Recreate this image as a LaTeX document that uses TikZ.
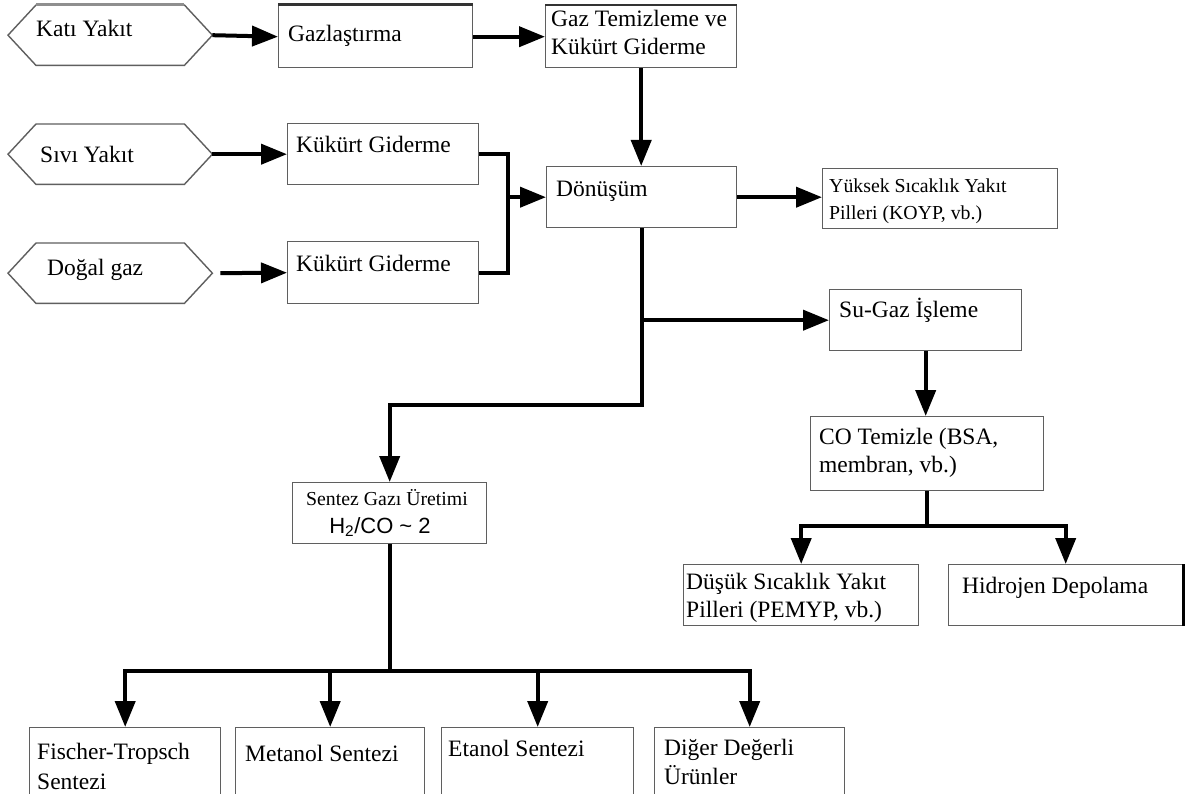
\documentclass[tikz,border=0pt]{standalone}
\usepackage{fontspec}
\setmainfont{Liberation Serif}
\newfontfamily\sansf{Liberation Sans}
\usetikzlibrary{arrows.meta,calc}

\definecolor{edgegray}{RGB}{95,95,95}

\tikzset{
  box/.style={draw=edgegray, line width=1.4pt, fill=white, rectangle,
    inner sep=0pt, anchor=north west},
  hexbox/.style={draw=none, rectangle, inner sep=0pt, anchor=north west},
  hexline/.style={draw=edgegray, line width=1.4pt, fill=white, line join=miter},
  lbl/.style={font=\fontsize{23.5}{27}\selectfont, inner sep=0pt, anchor=base west},
  smalllbl/.style={font=\fontsize{19.8}{24}\selectfont, inner sep=0pt, anchor=base west},
  conn/.style={line width=4pt, line join=miter},
  arr/.style={conn, -{Triangle[length=26pt,width=20pt]}},
}

\newcommand{\hexagon}[1]{%
  \draw[hexline] (#1.west) -- ([xshift=28pt]#1.north west) -- ([xshift=-28pt]#1.north east)
    -- (#1.east) -- ([xshift=-28pt]#1.south east) -- ([xshift=28pt]#1.south west) -- cycle;}

\begin{document}
\begin{tikzpicture}[x=1pt, y=-1pt]
\useasboundingbox (0,0) rectangle (1189,794);
\clip (0,0) rectangle (1189,794);
\fill[white] (0,0) rectangle (1189,794);

% ---- fuel inputs (hexagons)
\node[hexbox, minimum width=204pt, minimum height=60pt] (kati) at (8,5) {};
\node[hexbox, minimum width=204pt, minimum height=60pt] (sivi) at (8,124) {};
\node[hexbox, minimum width=204pt, minimum height=60pt] (dogal) at (8,243) {};
\hexagon{kati}
\hexagon{sivi}
\hexagon{dogal}
\draw[draw=edgegray!70, line width=3pt] ([xshift=28pt]kati.north west) -- ([xshift=-28pt]kati.north east);
\node[lbl] (katit) at (36,37) {Katı Yakıt};
\node[lbl] (sivit) at (40,163) {Sıvı Yakıt};
\node[lbl] (dogalt) at (47,276) {Doğal gaz};

% ---- process boxes
\node[box, minimum width=194pt, minimum height=62pt] (gazl) at (278,5) {};
\node[box, minimum width=191pt, minimum height=62pt] (gazt) at (545,5) {};
\node[box, minimum width=191pt, minimum height=61pt] (kuk1) at (287,123) {};
\node[box, minimum width=191pt, minimum height=62pt] (kuk2) at (287,241) {};
\node[box, minimum width=190pt, minimum height=61pt] (don) at (546,166) {};
\node[box, minimum width=235pt, minimum height=60pt] (yuk) at (822,168) {};
\node[box, minimum width=192pt, minimum height=61pt] (suga) at (829,289) {};
\node[box, minimum width=233pt, minimum height=74pt] (cot) at (810,416) {};
\node[box, minimum width=194pt, minimum height=61pt] (sen) at (292,482) {};
\node[box, minimum width=235pt, minimum height=61pt] (dus) at (683,564) {};
\node[box, minimum width=234pt, minimum height=61pt] (hid) at (948,564) {};
\node[box, minimum width=191pt, minimum height=90pt] (fis) at (29,727) {};
\node[box, minimum width=189pt, minimum height=90pt] (met) at (235,727) {};
\node[box, minimum width=192pt, minimum height=90pt] (eta) at (441,727) {};
\node[box, minimum width=190pt, minimum height=90pt] (dig) at (654,727) {};

% heavier edges on a few boxes
\draw[draw=black!80, line width=3pt] (gazl.north west) -- (gazl.north east);
\draw[draw=black!80, line width=2.5pt] (gazt.north west) -- (gazt.north east);
\draw[draw=black, line width=3pt] (hid.north east) -- (hid.south east);

% ---- box texts
\node[lbl] (gazlt) at (288,42) {Gazlaştırma};
\node[lbl] (gaztt1) at (551,27) {Gaz Temizleme ve};
\node[lbl] (gaztt2) at (551,55) {Kükürt Giderme};
\node[lbl] (kuk1t) at (296,153) {Kükürt Giderme};
\node[lbl] (kuk2t) at (296,272) {Kükürt Giderme};
\node[lbl] (dont) at (556,197) {Dönüşüm};
\node[smalllbl] (yukt1) at (829,193) {Yüksek Sıcaklık Yakıt};
\node[smalllbl] (yukt2) at (829,220) {Pilleri (KOYP, vb.)};
\node[lbl] (sugat) at (839,318) {Su-Gaz İşleme};
\node[lbl] (cott1) at (819,444) {CO Temizle (BSA,};
\node[lbl] (cott2) at (819,472) {membran, vb.)};
\node[smalllbl, anchor=base] (sent1) at (387,505) {Sentez Gazı Üretimi};
\node[font=\sansf\fontsize{22}{26}\selectfont, inner sep=0pt, anchor=base] (sent2) at (380,533)
  {H\textsubscript{2}/CO \textasciitilde{} 2};
\node[lbl] (dust1) at (686,589) {Düşük Sıcaklık Yakıt};
\node[lbl] (dust2) at (686,617) {Pilleri (PEMYP, vb.)};
\node[lbl] (hidt) at (962,593) {Hidrojen Depolama};
\node[lbl] (fist1) at (37,759) {Fischer-Tropsch};
\node[lbl] (fist2) at (37,789) {Sentezi};
\node[lbl] (mett) at (245,761) {Metanol Sentezi};
\node[lbl] (etat) at (448,756) {Etanol Sentezi};
\node[lbl] (digt1) at (664,755) {Diğer Değerli};
\node[lbl] (digt2) at (664,784) {Ürünler};

% ---- connectors
\draw[arr] (kati.east) -- (gazl.west);
\draw[arr] (gazl.east) -- (gazt.west);
\draw[arr] (gazt.south) -- (gazt.south |- don.north);
\draw[arr] (sivi.east) -- (kuk1.west);
\draw[arr, shorten <=8pt] (dogal.east) -- (kuk2.west);

\path (don.west) ++(-38pt,0) coordinate (mrg);
\draw[conn] (kuk1.east) -| (mrg) |- (kuk2.east);
\draw[arr] (mrg) -- (don.west);

\draw[arr] (don.east) -- (don.east -| yuk.west);

\coordinate (bend) at ([yshift=-177pt]don.south);
\draw[arr] (don.south) -- (bend) -| (sen.north);
\coordinate (br1) at (don.south |- suga.west);
\draw[arr] (br1) -- (suga.west);

\draw[arr] (suga.south) -- (suga.south |- cot.north);
\coordinate (sp2) at ([yshift=-35pt]cot.south);
\draw[conn] (cot.south) -- (sp2);
\draw[arr] (sp2) -| (dus.north);
\draw[arr] (sp2) -| (hid.north);

\coordinate (sp3) at ([yshift=-127pt]sen.south);
\draw[conn] (sen.south) -- (sp3);
\draw[arr] (sp3) -| (fis.north);
\draw[arr] (sp3) -| (met.north);
\draw[arr] (sp3) -| (eta.north);
\draw[arr] (sp3) -| (dig.north);
\end{tikzpicture}
\end{document}
